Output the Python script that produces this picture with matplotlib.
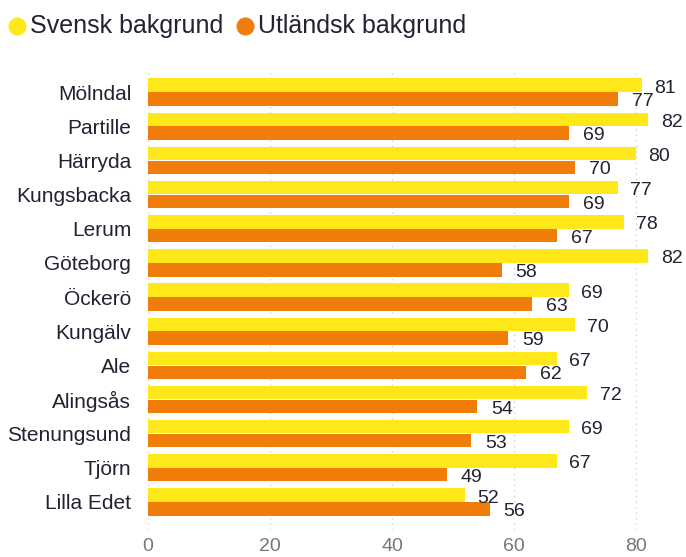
import matplotlib
matplotlib.use("Agg")
import matplotlib.pyplot as plt
import numpy as np

categories = ["Mölndal", "Partille", "Härryda", "Kungsbacka", "Lerum", "Göteborg",
              "Öckerö", "Kungälv", "Ale", "Alingsås", "Stenungsund", "Tjörn", "Lilla Edet"]
svensk = [81, 82, 80, 77, 78, 82, 69, 70, 67, 72, 69, 67, 52]
utlandsk = [77, 69, 70, 69, 67, 58, 63, 59, 62, 54, 53, 49, 56]
series_names = ["Svensk bakgrund", "Utländsk bakgrund"]
xticks = [0, 20, 40, 60, 80]

YELLOW = "#FFE81A"
ORANGE = "#F07D0A"
TEXT = "#222233"

plt.rcParams['font.family'] = ['Liberation Sans', 'DejaVu Sans']

fig = plt.figure(figsize=(6.86, 5.57), dpi=100)
ax = fig.add_axes([0.2157, 0.0485, 0.7843, 0.8254])

y = np.arange(len(categories))
h = 0.395
ax.barh(y - h/2 - 0.005, svensk, height=h, color=YELLOW, zorder=2)
ax.barh(y + h/2 + 0.005, utlandsk, height=h, color=ORANGE, zorder=2)

for yi, v in zip(y, svensk):
    ax.annotate(str(v), (v, yi - h/2), xytext=(9, -2), textcoords="offset points",
                ha="left", va="center", fontsize=14, color=TEXT)
for yi, v in zip(y, utlandsk):
    ax.annotate(str(v), (v, yi + h/2), xytext=(10, -2), textcoords="offset points",
                ha="left", va="center", fontsize=14, color=TEXT)

ax.set_xlim(0, 88.2)
ax.set_ylim(12.82, -0.64)
ax.set_yticks(y)
ax.set_yticklabels(categories, fontsize=15, color=TEXT)
ax.set_xticks(xticks)
ax.set_xticklabels([str(t) for t in xticks], fontsize=14, color="#777777")
ax.tick_params(axis="both", length=0)
ax.tick_params(axis="y", pad=12)
ax.tick_params(axis="x", pad=6)
for s in ax.spines.values():
    s.set_visible(False)
ax.grid(axis="x", color="#d0d0d0", linestyle=(0, (1, 3)), linewidth=1, zorder=0)

# legend
lax = fig.add_axes([0, 0.9, 1, 0.1])
lax.set_xlim(0, 686)
lax.set_ylim(0, 55.7)
lax.axis("off")
lax.plot([16.5], [29.5], "o", color=YELLOW, markersize=12)
lax.text(30, 30, series_names[0], color=TEXT, fontsize=18, va="center", ha="left")
lax.plot([244.5], [29.5], "o", color=ORANGE, markersize=12)
lax.text(258, 30, series_names[1], color=TEXT, fontsize=18, va="center", ha="left")

fig.savefig("out.png", dpi=100)
